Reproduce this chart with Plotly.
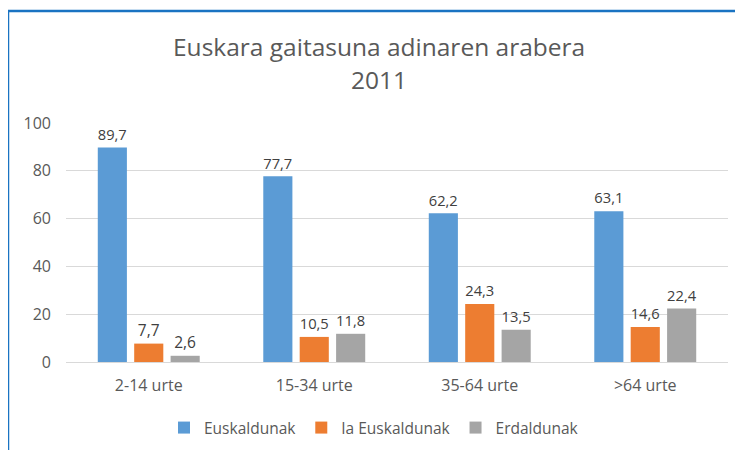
import plotly.graph_objects as go

categories = ["2-14 urte", "15-34 urte", "35-64 urte", ">64 urte"]
euskaldunak = [89.7, 77.7, 62.2, 63.1]
ia_euskaldunak = [7.7, 10.5, 24.3, 14.6]
erdaldunak = [2.6, 11.8, 13.5, 22.4]
series_names = ["Euskaldunak", "Ia Euskaldunak", "Erdaldunak"]
colors = ["#5B9BD5", "#ED7D31", "#A5A5A5"]
title_lines = ["Euskara gaitasuna adinaren arabera", "2011"]
y_ticks = [0, 20, 40, 60, 80, 100]

FONT = "Open Sans, sans-serif"

# page has an 8px body margin: figure coords = reference coords - 8
OFF = 8
FW, FH = 743 - OFF, 450 - OFF

fig = go.Figure()
for name, vals, col in zip(series_names, [euskaldunak, ia_euskaldunak, erdaldunak], colors):
    fig.add_trace(go.Bar(
        x=categories, y=vals, name=name,
        marker=dict(color=col, line=dict(width=0)),
        text=[f"{v:.1f}".replace(".", ",") for v in vals],
        textposition="outside",
        textfont=dict(family=FONT, size=15.5, color="#404040"),
        cliponaxis=False,
    ))

# plot area in reference px: x 66..728, y 123..362
L, R, T, B = 66 - OFF, 728 - OFF, 123 - OFF, 362 - OFF
W, H = R - L, B - T
def px(x):
    return (x - OFF - L) / W
def py(y):
    return (B - (y - OFF)) / H

fig.update_layout(
    width=FW, height=FH,
    margin=dict(l=L, r=FW - R, t=T, b=FH - B, autoexpand=False),
    paper_bgcolor="white", plot_bgcolor="white",
    barmode="group", bargap=0.34, bargroupgap=0.2,
    showlegend=True,
    legend=dict(orientation="h", xref="container", yref="container",
                x=(374 - OFF) / FW, xanchor="center", y=1 - (428 - OFF) / FH, yanchor="middle",
                font=dict(family=FONT, size=15.5, color="#595959"),
                itemwidth=30, traceorder="normal"),
    xaxis=dict(showgrid=False, showline=True, linecolor="#D9D9D9", linewidth=1,
               ticks="", ticklabelstandoff=9,
               tickfont=dict(family=FONT, size=16, color="#595959")),
    yaxis=dict(range=[0, 100], tickvals=y_ticks, showgrid=True, gridcolor="#D9D9D9",
               gridwidth=1, zeroline=False, ticks="", showline=False, ticklabelstandoff=14,
               tickfont=dict(family=FONT, size=16, color="#595959")),
    annotations=[
        dict(text=title_lines[0], x=px(379), y=py(46), xref="paper", yref="paper",
             showarrow=False, xanchor="center", yanchor="middle",
             font=dict(family=FONT, size=24.5, color="#595959")),
        dict(text=title_lines[1], x=px(379), y=py(80), xref="paper", yref="paper",
             showarrow=False, xanchor="center", yanchor="middle",
             font=dict(family=FONT, size=24.5, color="#595959")),
    ],
    shapes=[
        dict(type="line", xref="paper", yref="paper", x0=px(8), x1=px(760), y0=py(11), y1=py(11),
             line=dict(color="#1A73C2", width=2.5)),
        dict(type="line", xref="paper", yref="paper", x0=px(8), x1=px(8), y0=py(10), y1=py(470),
             line=dict(color="#1A73C2", width=2.5)),
    ],
)

fig.write_html("out.html")
